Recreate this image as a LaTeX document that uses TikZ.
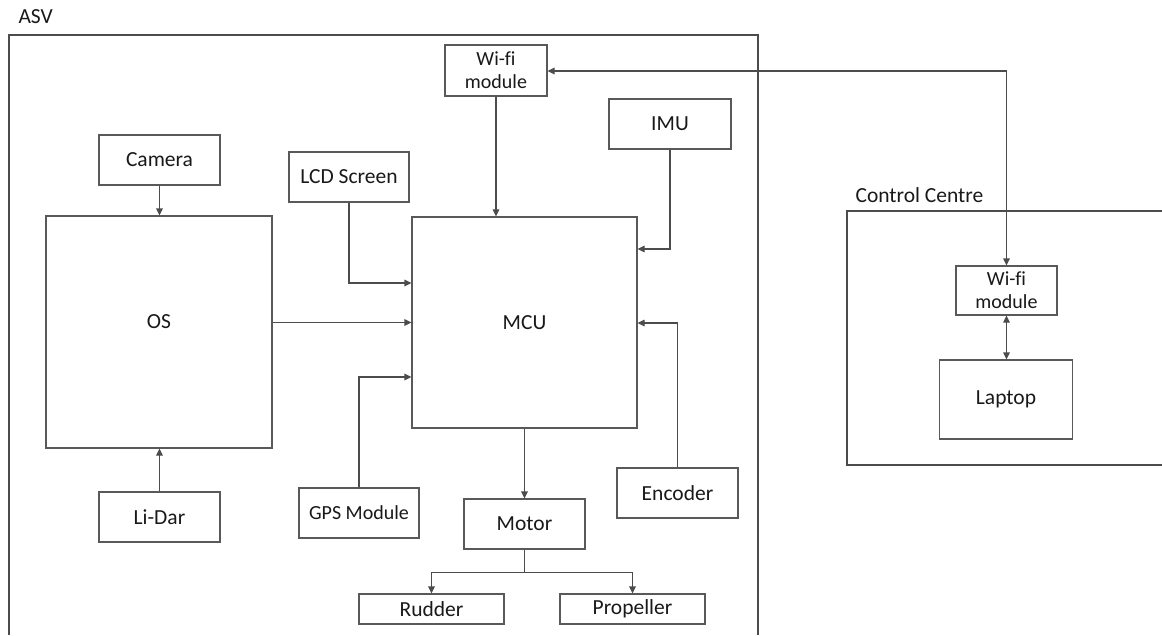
\documentclass[tikz,border=0pt]{standalone}
\usepackage{fontspec}
\setmainfont{Carlito}[Ligatures={NoCommon}]
\usetikzlibrary{arrows.meta,calc}
\begin{document}
\begin{tikzpicture}[x=1pt,y=-1pt,
  every node/.style={font=\fontsize{21.5}{24}\selectfont, text=black!90},
  blk/.style={draw=black!65, line width=1.1pt, fill=white, inner sep=0pt, align=center},
  wifi/.style={blk, font=\fontsize{20}{23}\selectfont},
  frame/.style={draw=black!70, line width=1.1pt},
  conn/.style={draw=black!70, line width=1.1pt, -{Triangle[length=7pt,width=6.5pt]}},
  bconn/.style={draw=black!70, line width=1.1pt, {Triangle[length=7pt,width=6.5pt]}-{Triangle[length=7pt,width=6.5pt]}},
  plain/.style={draw=black!70, line width=1.1pt}]
\useasboundingbox (0,0) rectangle (1162,635);
% frames
\draw[frame] (9,635) -- (9,35) -- (758,35) -- (758,635);
\draw[frame] (1162,211) -- (847,211) -- (847,465) -- (1162,465);
\node[anchor=west] (asvlbl) at (15,16.5) {ASV};
\node[anchor=west] (cclbl) at (852,195) {Control Centre};
% blocks
\node[blk, minimum width=121pt, minimum height=50pt] (cam) at (159.5,160) {Camera};
\node[blk, minimum width=120pt, minimum height=50pt] (lcd) at (349,177) {LCD Screen};
\node[wifi, minimum width=102pt, minimum height=51pt] (wifia) at (496,70.5) {Wi-fi\\module};
\node[blk, minimum width=122pt, minimum height=50pt] (imu) at (670,124) {IMU};
\node[blk, minimum width=226pt, minimum height=232pt, label={[yshift=10pt]center:OS}] (os) at (159,332) {};
\node[blk, minimum width=225pt, minimum height=211pt] (mcu) at (524.5,322.5) {MCU};
\node[blk, minimum width=121pt, minimum height=50pt] (lidar) at (159.5,517) {Li-Dar};
\node[blk, minimum width=120pt, minimum height=50pt, font=\fontsize{20}{23}\selectfont] (gps) at (359,513) {GPS Module};
\node[blk, minimum width=121pt, minimum height=50pt] (motor) at (524.5,524) {Motor};
\node[blk, minimum width=121pt, minimum height=50pt] (enc) at (677.5,493) {Encoder};
\node[blk, minimum width=145pt, minimum height=30pt] (rudder) at (431.5,609) {Rudder};
\node[blk, minimum width=145pt, minimum height=30pt] (prop) at (632.5,609) {Propeller};
\node[wifi, minimum width=101pt, minimum height=49pt] (wifib) at (1006.5,290.5) {Wi-fi\\module};
\node[blk, minimum width=133pt, minimum height=79pt] (laptop) at (1006,399.5) {Laptop};
% connectors
\draw[conn] (cam.south) -- (cam.south |- os.north);
\draw[conn] (lidar.north) -- (lidar.north |- os.south);
\draw[conn] (lcd.south) |- (mcu.west |- 0,283);
\draw[conn] (os.east |- mcu.west) -- (mcu.west);
\draw[conn] (gps.north) |- (mcu.west |- 0,377);
\draw[conn] (wifia.south) -- (wifia.south |- mcu.north);
\draw[conn] (imu.south) |- (mcu.east |- 0,249);
\draw[conn] (enc.north) |- (mcu.east |- 0,323);
\draw[conn] (mcu.south) -- (motor.north);
\coordinate (split) at ($(motor.south)+(0,-23pt)$);
\draw[plain] (motor.south) -- (split);
\draw[conn] (split) -| (rudder.north);
\draw[conn] (split) -| (prop.north);
\draw[bconn] (wifia.east |- 0,71) -| (wifib.north);
\draw[bconn] (wifib.south) -- (wifib.south |- laptop.north);
\end{tikzpicture}
\end{document}
